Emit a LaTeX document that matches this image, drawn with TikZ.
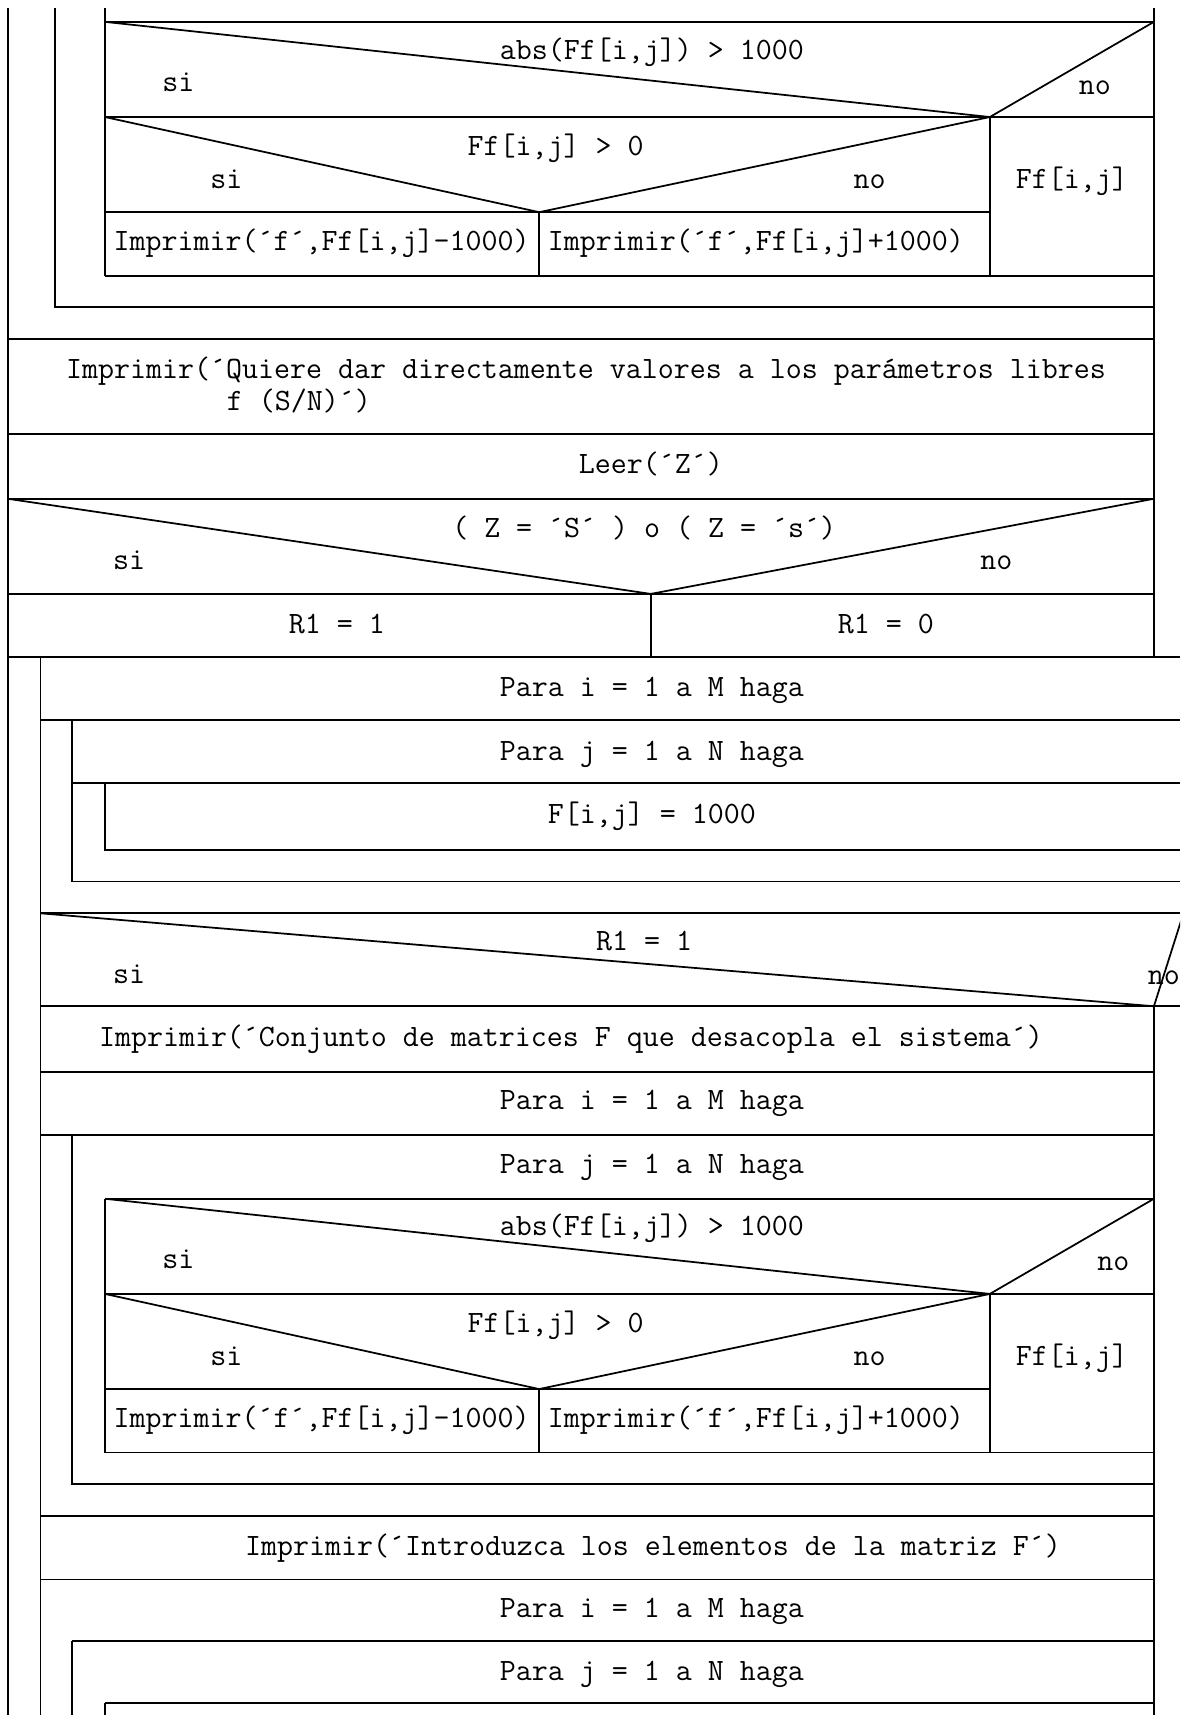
\documentclass[tikz,border=0pt]{standalone}
\begin{document}
\begin{tikzpicture}[x=0.5pt,y=-0.5pt,
 ns/.style={line width=0.8pt},
 lbl/.style={font=\ttfamily\fontsize{14.2}{17}\selectfont,inner sep=0pt,anchor=base},
 lblw/.style={lbl,anchor=base west}]
\useasboundingbox (0,0) rectangle (1079,1568);
\clip (0,0) rectangle (1079,1568);
\foreach \oy/\nx in {0/1001,1076/1018} {
 \draw[ns] (96,20+\oy) -- (1055,20+\oy);
 \draw[ns] (96,107+\oy) -- (1055,107+\oy);
 \draw[ns] (96,194+\oy) -- (905,194+\oy);
 \draw[ns] (96,252+\oy) -- (1055,252+\oy);
 \draw[ns] (905,107+\oy) -- (905,252+\oy);
 \draw[ns] (493,194+\oy) -- (493,252+\oy);
 \draw[ns] (96,20+\oy) -- (905,107+\oy) -- (1055,20+\oy);
 \draw[ns] (96,107+\oy) -- (493,194+\oy) -- (905,107+\oy);
 \node[lbl] (abs\oy) at (596,54+\oy) {abs(Ff[i,j]) > 1000};
 \node[lbl] (siA\oy) at (163,84+\oy) {si};
 \node[lbl] (noA\oy) at (\nx,86+\oy) {no};
 \node[lbl] (pos\oy) at (508,142+\oy) {Ff[i,j] > 0};
 \node[lbl] (siB\oy) at (207,172+\oy) {si};
 \node[lbl] (noB\oy) at (795,172+\oy) {no};
 \node[lbl] (ff\oy) at (980,172+\oy) {Ff[i,j]};
 \node[lbl] (menos\oy) at (294,229+\oy) {Imprimir(´f´,Ff[i,j]-1000)};
 \node[lbl] (mas\oy) at (691,229+\oy) {Imprimir(´f´,Ff[i,j]+1000)};
}
\draw[ns] (7,7) -- (7,1568);
\draw[ns] (50,7) -- (50,281) -- (1055,281);
\draw[ns] (96,7) -- (96,252);
\draw[ns] (1055,7) -- (1055,601);
\draw[ns] (7,310) -- (1055,310);
\draw[ns] (7,397) -- (1055,397);
\draw[ns] (7,456) -- (1055,456);
\draw[ns] (7,543) -- (1055,543);
\draw[ns] (7,456) -- (595,543) -- (1055,456);
\draw[ns] (595,543) -- (595,601);
\draw[ns] (7,601) -- (1079,601);
\draw[ns] (37,601) -- (37,1568);
\draw[ns] (37,658) -- (1079,658);
\draw[ns] (66,658) -- (66,806) -- (1079,806);
\draw[ns] (66,716) -- (1079,716);
\draw[ns] (96,716) -- (96,777) -- (1079,777);
\draw[ns] (37,835) -- (1079,835);
\draw[ns] (37,835) -- (1055,920) -- (1082,835);
\draw[ns] (37,920) -- (1079,920);
\draw[ns] (1055,920) -- (1055,1568);
\draw[ns] (37,980) -- (1055,980);
\draw[ns] (37,1038) -- (1055,1038);
\draw[ns] (66,1038) -- (66,1357) -- (1055,1357);
\draw[ns] (96,1096) -- (96,1328);
\draw[ns] (37,1386) -- (1055,1386);
\draw[ns] (37,1444) -- (1055,1444);
\draw[ns] (66,1500) -- (1055,1500);
\draw[ns] (66,1500) -- (66,1568);
\draw[ns] (96,1557) -- (1055,1557);
\draw[ns] (96,1557) -- (96,1568);
\node[lblw] (quiere) at (60,346) {Imprimir(´Quiere dar directamente valores a los parámetros libres};
\node[lblw] (quiere2) at (207,375) {f (S/N)´)};
\node[lbl] (leer) at (595,433) {Leer(´Z´)};
\node[lbl] (cond) at (589,491) {( Z = ´S´ ) o ( Z = ´s´)};
\node[lbl] (siZ) at (118,521) {si};
\node[lbl] (noZ) at (911,521) {no};
\node[lbl] (runo) at (308,579) {R1 = 1};
\node[lbl] (rcero) at (810,579) {R1 = 0};
\node[lbl] (paraiA) at (596,637) {Para i = 1 a M haga};
\node[lbl] (parajA) at (596,695) {Para j = 1 a N haga};
\node[lbl] (fmil) at (596,753) {F[i,j] = 1000};
\node[lbl] (condR) at (589,869) {R1 = 1};
\node[lbl] (siR) at (118,899) {si};
\node[lbl] (noR) at (1064,900) {no};
\node[lbl] (conj) at (522,957) {Imprimir(´Conjunto de matrices F que desacopla el sistema´)};
\node[lbl] (paraiB) at (596,1014) {Para i = 1 a M haga};
\node[lbl] (parajB) at (596,1073) {Para j = 1 a N haga};
\node[lbl] (intro) at (597,1422) {Imprimir(´Introduzca los elementos de la matriz F´)};
\node[lbl] (paraiC) at (596,1479) {Para i = 1 a M haga};
\node[lbl] (parajC) at (596,1536) {Para j = 1 a N haga};
\end{tikzpicture}
\end{document}
